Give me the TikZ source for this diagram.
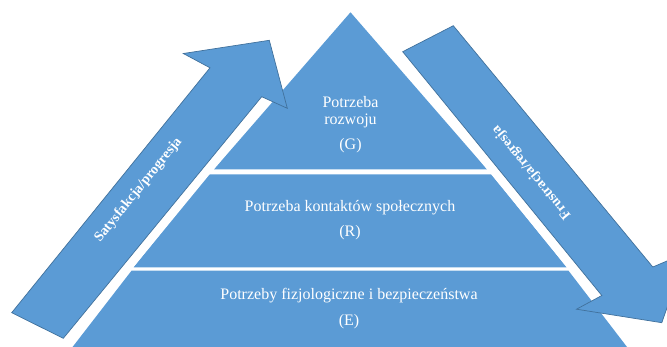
\documentclass[tikz,border=0pt]{standalone}
\usepackage{fontspec}
\setmainfont{Liberation Serif}
\definecolor{boxblue}{HTML}{5B9BD5}
\definecolor{edgeblue}{HTML}{41719C}
\begin{document}
\begin{tikzpicture}[x=1pt,y=-1pt,
  layer/.style={fill=boxblue,draw=none},
  blockarrow/.style={fill=boxblue,draw=edgeblue,line width=0.7pt,line join=miter},
  gapstrip/.style={fill=white,draw=none},
  lvltext/.style={text=white,font=\fontsize{16}{18}\selectfont,inner sep=0pt,anchor=base},
  arrtext/.style={text=white,font=\bfseries\fontsize{14}{16}\selectfont,inner sep=0pt}]
\useasboundingbox (0,0) rectangle (667,346);
\clip (0,0) rectangle (667,346);
% pyramid layers
\path[layer] (350.5,12.3) -- (487,169.3) -- (214,169.3) -- cycle;
\path[layer] (208.5,174.3) -- (491.5,174.3) -- (566.5,267.3) -- (133.5,267.3) -- cycle;
\path[layer] (131.5,270.7) -- (568.5,270.7) -- (637,360) -- (62.5,360) -- cycle;
% white gaps along the arrow shafts
\path[gapstrip] (63.3,338.3) -- (261.7,96.7) -- (270.2,100.5) -- (70.3,344) -- cycle;
\path[gapstrip] (402.7,51.7) -- (601.8,295.5) -- (593.8,300) -- (395.7,57.4) -- cycle;
% block arrows
\draw[blockarrow] (11.7,312.7) -- (63.3,338.3) -- (261.7,96.7) -- (287.3,108.3)
  -- (269.3,40.3) -- (183.3,53.5) -- (210,67.8) -- cycle;
\draw[blockarrow] (402.7,51.7) -- (453.3,25.7) -- (652.8,267) -- (686,253)
  -- (661.8,322.7) -- (576.5,309.2) -- (601.8,295.5) -- cycle;
% texts
\node[lvltext] (g1) at (350.5,107.5) {Potrzeba};
\node[lvltext] (g2) at (350.5,124) {rozwoju};
\node[lvltext] (g3) at (350.5,149.5) {(G)};
\node[lvltext] (r1) at (350,211) {Potrzeba kontaktów społecznych};
\node[lvltext] (r2) at (350,236) {(R)};
\node[lvltext] (e1) at (349,299.5) {Potrzeby fizjologiczne i bezpieczeństwa};
\node[lvltext] (e2) at (349,325.5) {(E)};
\node[arrtext,rotate=51] (sat) at (138.5,190) {Satysfakcja/progresja};
\node[arrtext,rotate=129.3] (fru) at (531.7,172.5) {Frustracja/regresja};
\end{tikzpicture}
\end{document}
